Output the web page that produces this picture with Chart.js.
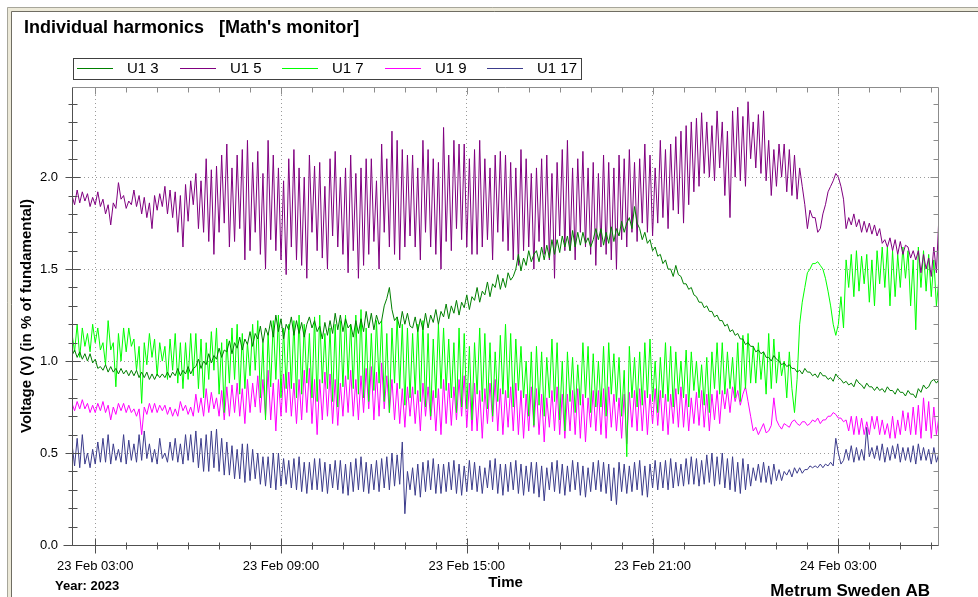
<!DOCTYPE html>
<html>
<head>
<meta charset="utf-8">
<script src="https://cdn.jsdelivr.net/npm/chart.js@4.4.1/dist/chart.umd.min.js"></script>
<style>
  html, body { margin: 0; padding: 0; background: #fff; }
  canvas { display: block; }
</style>
</head>
<body>
<canvas id="harmonics" width="978" height="597"></canvas>
<script>
// Time axis: hours counted from 23 Feb 00:00, one sample every 5 minutes
const START_HOUR = 2.25;
const STEP_HOURS = 1 / 12;

const seriesNames = ['U1 3', 'U1 5', 'U1 7', 'U1 9', 'U1 17'];
const seriesColors = ['#008000', '#800080', '#00ff00', '#ff00ff', '#3c3c8c'];

// Voltage harmonics in % of fundamental (one row = one hour)
const u1h3 = [
  1.03, 1.06, 1.02, 1.05, 1.01, 1.04, 1.00, 1.04, 0.99, 1.01, 0.96, 0.97,
  0.95, 0.98, 0.94, 0.97, 0.94, 0.96, 0.93, 0.96, 0.93, 0.95, 0.92, 0.95,
  0.92, 0.95, 0.91, 0.94, 0.91, 0.94, 0.90, 0.93, 0.90, 0.93, 0.91, 0.93,
  0.91, 0.94, 0.91, 0.94, 0.92, 0.96, 0.92, 0.95, 0.93, 0.97, 0.93, 0.96,
  0.97, 1.01, 0.96, 1.00, 0.98, 1.04, 0.99, 1.03, 1.01, 1.07, 1.02, 1.06,
  1.05, 1.11, 1.04, 1.10, 1.07, 1.13, 1.06, 1.12, 1.09, 1.16, 1.08, 1.15,
  1.12, 1.19, 1.10, 1.18, 1.14, 1.22, 1.13, 1.25, 1.16, 1.23, 1.12, 1.20,
  1.17, 1.24, 1.14, 1.22, 1.15, 1.21, 1.13, 1.20, 1.24, 1.18, 1.22, 1.16,
  1.19, 1.12, 1.21, 1.14, 1.22, 1.15, 1.26, 1.17, 1.25, 1.16, 1.23, 1.18,
  1.20, 1.13, 1.22, 1.15, 1.23, 1.16, 1.27, 1.18, 1.26, 1.17, 1.25, 1.20,
  1.22, 1.30, 1.34, 1.40, 1.28, 1.22, 1.24, 1.18, 1.27, 1.20, 1.26, 1.19,
  1.18, 1.24, 1.16, 1.23, 1.17, 1.26, 1.18, 1.25, 1.21, 1.28, 1.20, 1.27,
  1.24, 1.31, 1.23, 1.30, 1.26, 1.33, 1.25, 1.32, 1.29, 1.36, 1.28, 1.35,
  1.33, 1.40, 1.32, 1.38, 1.36, 1.43, 1.35, 1.42, 1.40, 1.47, 1.39, 1.45,
  1.40, 1.48, 1.44, 1.46, 1.50, 1.58, 1.49, 1.56, 1.52, 1.60, 1.54, 1.58,
  1.60, 1.54, 1.62, 1.55, 1.63, 1.56, 1.66, 1.58, 1.66, 1.59, 1.68, 1.62,
  1.68, 1.60, 1.71, 1.62, 1.70, 1.63, 1.70, 1.64, 1.67, 1.62, 1.66, 1.72,
  1.66, 1.72, 1.63, 1.70, 1.64, 1.73, 1.65, 1.72, 1.68, 1.76, 1.70, 1.75,
  1.78, 1.72, 1.84, 1.75, 1.72, 1.66, 1.70, 1.64, 1.66, 1.60, 1.62, 1.57,
  1.58, 1.53, 1.55, 1.50, 1.50, 1.46, 1.52, 1.47, 1.46, 1.42, 1.42, 1.39,
  1.40, 1.36, 1.35, 1.32, 1.32, 1.29, 1.30, 1.27, 1.27, 1.24, 1.25, 1.22,
  1.22, 1.19, 1.20, 1.16, 1.17, 1.14, 1.15, 1.12, 1.12, 1.09, 1.10, 1.08,
  1.08, 1.05, 1.06, 1.04, 1.05, 1.02, 1.02, 1.00, 1.03, 1.01, 1.00, 0.98,
  0.99, 0.97, 0.98, 0.96, 0.96, 0.94, 0.95, 0.93, 0.96, 0.94, 0.94, 0.92,
  0.93, 0.91, 0.94, 0.92, 0.92, 0.90, 0.91, 0.89, 0.93, 0.91, 0.90, 0.88,
  0.89, 0.87, 0.88, 0.86, 0.90, 0.88, 0.87, 0.85, 0.88, 0.86, 0.86, 0.84,
  0.86, 0.84, 0.85, 0.83, 0.86, 0.84, 0.84, 0.82, 0.85, 0.83, 0.83, 0.81,
  0.84, 0.82, 0.82, 0.80, 0.85, 0.83, 0.87, 0.85, 0.86, 0.89, 0.90, 0.88, 0.90
];
const u1h5 = [
  1.90, 1.85, 1.93, 1.86, 1.92, 1.87, 1.91, 1.84, 1.89, 1.85, 1.92, 1.84,
  1.88, 1.80, 1.85, 1.74, 1.86, 1.83, 1.97, 1.88, 1.90, 1.83, 1.87, 1.85,
  1.93, 1.84, 1.90, 1.80, 1.89, 1.78, 1.86, 1.72, 1.90, 1.82, 1.91, 1.84,
  1.95, 1.80, 1.93, 1.78, 1.92, 1.70, 1.90, 1.62, 1.96, 1.76, 1.98, 1.85,
  2.02, 1.72, 1.98, 1.70, 2.10, 1.65, 2.04, 1.58, 2.06, 1.70, 2.12, 1.75,
  2.18, 1.62, 2.05, 1.65, 2.12, 1.72, 2.15, 1.55, 2.20, 1.60, 2.08, 1.70,
  2.14, 1.58, 2.02, 1.50, 2.20, 1.66, 2.12, 1.60, 2.05, 1.55, 1.98, 1.47,
  2.10, 1.62, 2.15, 1.55, 2.05, 1.52, 2.00, 1.45, 2.12, 1.70, 2.06, 1.60,
  2.08, 1.56, 1.95, 1.50, 2.10, 1.68, 2.14, 1.62, 2.00, 1.58, 2.05, 1.48,
  2.12, 1.60, 2.02, 1.45, 2.05, 1.52, 2.10, 1.58, 2.10, 1.65, 1.98, 1.50,
  2.18, 1.70, 2.10, 1.62, 2.25, 1.58, 2.20, 1.55, 2.15, 1.62, 2.12, 1.68,
  2.12, 1.62, 2.05, 1.55, 2.20, 1.70, 2.15, 1.62, 2.10, 1.58, 2.08, 1.50,
  2.27, 1.65, 2.12, 1.60, 2.20, 1.72, 2.18, 1.66, 2.18, 1.62, 2.10, 1.58,
  2.15, 1.58, 2.20, 1.62, 2.10, 1.66, 2.05, 1.55, 2.12, 1.70, 2.14, 1.65,
  2.12, 1.60, 2.08, 1.55, 2.05, 1.52, 2.15, 1.60, 2.10, 1.62, 2.02, 1.50,
  2.05, 1.65, 2.10, 1.58, 2.12, 1.55, 2.02, 1.45, 2.08, 1.68, 2.15, 1.60,
  2.20, 1.60, 2.05, 1.55, 2.10, 1.70, 2.14, 1.62, 2.05, 1.58, 2.08, 1.52,
  2.02, 1.62, 2.12, 1.58, 2.08, 1.55, 2.05, 1.50, 2.12, 1.66, 2.10, 1.62,
  2.15, 1.70, 2.08, 1.65, 2.10, 1.75, 2.18, 1.70, 2.12, 1.68, 2.05, 1.75,
  2.20, 1.78, 2.15, 1.72, 2.18, 1.82, 2.22, 1.80, 2.25, 1.75, 2.28, 1.85,
  2.30, 1.92, 2.32, 1.95, 2.35, 2.02, 2.30, 2.00, 2.28, 1.98, 2.36, 2.05,
  2.30, 1.90, 2.25, 1.78, 2.36, 2.00, 2.38, 1.98, 2.33, 1.95, 2.41, 2.10,
  2.30, 2.05, 2.34, 2.02, 2.36, 1.98, 2.20, 1.90, 2.15, 1.95, 2.18, 2.00,
  2.18, 1.92, 2.15, 1.90, 2.12, 1.88, 2.05, 1.95, 1.85, 1.72, 1.82, 1.78,
  1.78, 1.70, 1.72, 1.80, 1.85, 1.92, 1.95, 1.98, 2.02, 2.00, 1.95, 1.88,
  1.72, 1.78, 1.74, 1.80, 1.73, 1.77, 1.70, 1.76, 1.70, 1.75, 1.69, 1.74,
  1.68, 1.72, 1.64, 1.66, 1.62, 1.67, 1.60, 1.66, 1.58, 1.65, 1.58, 1.63,
  1.62, 1.56, 1.60, 1.55, 1.60, 1.48, 1.58, 1.50, 1.56, 1.46, 1.62, 1.48, 1.80
];
const u1h7 = [
  1.15, 1.05, 1.20, 1.02, 1.18, 1.08, 1.15, 1.05, 1.20, 1.10, 1.18, 1.06,
  1.10, 0.98, 1.22, 1.06, 1.10, 0.86, 1.15, 1.00, 1.18, 1.05, 1.18, 1.08,
  1.12, 0.95, 1.08, 0.77, 1.10, 0.98, 1.15, 1.02, 1.12, 0.92, 1.10, 1.00,
  1.08, 0.90, 1.12, 0.95, 1.15, 0.88, 1.10, 0.85, 1.10, 0.90, 1.15, 0.92,
  1.15, 0.85, 1.12, 0.80, 1.10, 0.90, 1.16, 0.95, 1.18, 0.82, 1.10, 0.72,
  1.12, 0.88, 1.18, 0.90, 1.20, 0.82, 1.15, 0.85, 1.10, 0.92, 1.20, 0.95,
  1.22, 0.80, 1.10, 0.68, 1.15, 0.86, 1.22, 0.90, 1.25, 0.80, 1.18, 0.85,
  1.20, 0.85, 1.22, 0.80, 1.25, 0.82, 1.20, 0.88, 1.15, 0.80, 1.24, 0.78,
  1.25, 0.88, 1.15, 0.85, 1.18, 0.78, 1.20, 0.75, 1.22, 0.86, 1.25, 0.90,
  1.20, 0.85, 1.25, 0.82, 1.28, 0.80, 1.18, 0.78, 1.15, 0.84, 1.22, 0.88,
  1.22, 0.78, 1.15, 0.72, 1.18, 0.88, 1.24, 0.85, 1.20, 0.76, 1.18, 0.80,
  1.15, 0.82, 1.20, 0.78, 1.22, 0.75, 1.15, 0.70, 1.12, 0.80, 1.20, 0.85,
  1.18, 0.84, 1.12, 0.80, 1.10, 0.72, 1.18, 0.75, 1.15, 0.74, 1.08, 0.68,
  1.10, 0.82, 1.18, 0.78, 1.15, 0.74, 1.10, 0.70, 1.05, 0.78, 1.14, 0.82,
  1.20, 0.80, 1.15, 0.75, 1.12, 0.84, 1.08, 0.80, 1.00, 0.70, 1.05, 0.65,
  1.08, 0.76, 1.05, 0.70, 1.02, 0.80, 1.12, 0.78, 1.10, 0.68, 1.00, 0.62,
  1.05, 0.78, 1.02, 0.72, 0.98, 0.76, 1.10, 0.80, 1.08, 0.72, 1.04, 0.75,
  1.00, 0.75, 1.08, 0.70, 1.10, 0.82, 1.04, 0.78, 1.02, 0.70, 0.95, 0.48,
  1.08, 0.80, 1.02, 0.75, 1.05, 0.76, 1.10, 0.80, 1.12, 0.78, 1.00, 0.72,
  1.02, 0.80, 1.10, 0.78, 1.08, 0.75, 1.05, 0.82, 1.00, 0.80, 1.06, 0.75,
  1.05, 0.84, 1.00, 0.80, 0.98, 0.76, 1.02, 0.72, 1.05, 0.85, 1.10, 0.82,
  1.10, 0.82, 1.05, 0.85, 1.02, 0.80, 1.10, 0.78, 1.14, 0.85, 1.15, 0.88,
  1.08, 0.88, 1.10, 0.90, 1.05, 0.82, 1.15, 0.85, 1.12, 0.88, 1.05, 0.92,
  1.00, 0.80, 1.05, 0.85, 0.72, 0.90, 1.20, 1.32, 1.40, 1.48, 1.50, 1.53,
  1.53, 1.54, 1.52, 1.50, 1.45, 1.38, 1.30, 1.20, 1.14, 1.20, 1.35, 1.18,
  1.55, 1.40, 1.58, 1.35, 1.60, 1.38, 1.57, 1.42, 1.58, 1.32, 1.55, 1.30,
  1.60, 1.42, 1.62, 1.40, 1.62, 1.30, 1.60, 1.35, 1.58, 1.40, 1.62, 1.45,
  1.60, 1.30, 1.55, 1.17, 1.62, 1.40, 1.60, 1.38, 1.58, 1.35, 1.55, 1.30, 1.45
];
const u1h9 = [
  0.77, 0.73, 0.78, 0.74, 0.79, 0.74, 0.77, 0.72, 0.76, 0.72, 0.77, 0.73,
  0.78, 0.72, 0.76, 0.68, 0.75, 0.71, 0.77, 0.73, 0.77, 0.72, 0.76, 0.72,
  0.74, 0.70, 0.74, 0.60, 0.75, 0.71, 0.77, 0.72, 0.77, 0.72, 0.76, 0.73,
  0.76, 0.71, 0.75, 0.70, 0.74, 0.70, 0.78, 0.73, 0.76, 0.71, 0.75, 0.70,
  0.82, 0.72, 0.80, 0.70, 0.85, 0.72, 0.83, 0.74, 0.80, 0.70, 0.84, 0.68,
  0.86, 0.70, 0.87, 0.72, 0.88, 0.70, 0.85, 0.66, 0.90, 0.72, 0.88, 0.75,
  0.92, 0.72, 0.90, 0.70, 0.95, 0.68, 0.88, 0.62, 0.90, 0.70, 0.93, 0.72,
  0.94, 0.70, 0.88, 0.66, 0.90, 0.68, 0.95, 0.72, 0.96, 0.66, 0.90, 0.60,
  0.90, 0.68, 0.94, 0.70, 0.93, 0.66, 0.90, 0.65, 0.88, 0.70, 0.92, 0.72,
  0.95, 0.70, 0.90, 0.68, 0.92, 0.72, 0.96, 0.74, 0.97, 0.68, 0.94, 0.70,
  0.99, 0.74, 0.92, 0.72, 0.90, 0.68, 0.88, 0.66, 0.85, 0.64, 0.86, 0.70,
  0.86, 0.66, 0.84, 0.62, 0.88, 0.70, 0.86, 0.68, 0.84, 0.62, 0.85, 0.60,
  0.90, 0.66, 0.88, 0.65, 0.86, 0.68, 0.90, 0.70, 0.92, 0.64, 0.88, 0.62,
  0.88, 0.62, 0.84, 0.58, 0.85, 0.66, 0.88, 0.67, 0.90, 0.62, 0.85, 0.60,
  0.84, 0.64, 0.86, 0.62, 0.88, 0.60, 0.84, 0.58, 0.82, 0.62, 0.86, 0.64,
  0.85, 0.60, 0.82, 0.56, 0.80, 0.64, 0.84, 0.62, 0.86, 0.60, 0.82, 0.58,
  0.82, 0.62, 0.84, 0.60, 0.85, 0.58, 0.82, 0.56, 0.80, 0.64, 0.84, 0.62,
  0.84, 0.60, 0.85, 0.58, 0.86, 0.64, 0.82, 0.62, 0.80, 0.58, 0.82, 0.55,
  0.83, 0.64, 0.84, 0.62, 0.85, 0.62, 0.84, 0.60, 0.82, 0.66, 0.85, 0.65,
  0.84, 0.62, 0.82, 0.60, 0.82, 0.66, 0.85, 0.64, 0.86, 0.64, 0.82, 0.62,
  0.80, 0.66, 0.83, 0.65, 0.84, 0.64, 0.82, 0.62, 0.82, 0.68, 0.84, 0.66,
  0.84, 0.74, 0.85, 0.72, 0.86, 0.78, 0.84, 0.76, 0.82, 0.86, 0.78, 0.70,
  0.62, 0.64, 0.60, 0.63, 0.66, 0.61, 0.62, 0.65, 0.80, 0.68, 0.65, 0.63,
  0.66, 0.65, 0.64, 0.67, 0.68, 0.66, 0.65, 0.67, 0.67, 0.65, 0.66, 0.68,
  0.67, 0.69, 0.66, 0.68, 0.68, 0.70, 0.70, 0.72, 0.71, 0.69, 0.69, 0.67,
  0.68, 0.62, 0.70, 0.60, 0.70, 0.60, 0.69, 0.60, 0.67, 0.60, 0.70, 0.63,
  0.70, 0.60, 0.68, 0.60, 0.66, 0.58, 0.70, 0.58, 0.68, 0.60, 0.73, 0.62,
  0.72, 0.60, 0.75, 0.60, 0.76, 0.58, 0.80, 0.62, 0.78, 0.58, 0.75, 0.60, 0.70
];
const u1h17 = [
  0.55, 0.43, 0.58, 0.42, 0.60, 0.44, 0.50, 0.42, 0.52, 0.44, 0.56, 0.45,
  0.58, 0.45, 0.60, 0.44, 0.55, 0.46, 0.52, 0.45, 0.60, 0.44, 0.57, 0.46,
  0.55, 0.45, 0.60, 0.46, 0.62, 0.47, 0.55, 0.45, 0.52, 0.44, 0.58, 0.47,
  0.50, 0.45, 0.56, 0.46, 0.58, 0.45, 0.55, 0.44, 0.60, 0.46, 0.60, 0.45,
  0.62, 0.42, 0.58, 0.40, 0.60, 0.40, 0.62, 0.42, 0.63, 0.40, 0.58, 0.38,
  0.56, 0.38, 0.54, 0.36, 0.52, 0.36, 0.55, 0.34, 0.55, 0.35, 0.52, 0.36,
  0.50, 0.33, 0.48, 0.32, 0.48, 0.31, 0.50, 0.30, 0.50, 0.32, 0.47, 0.33,
  0.46, 0.31, 0.47, 0.30, 0.48, 0.29, 0.45, 0.28, 0.45, 0.30, 0.47, 0.30,
  0.47, 0.29, 0.45, 0.28, 0.44, 0.31, 0.46, 0.30, 0.46, 0.28, 0.44, 0.27,
  0.45, 0.29, 0.47, 0.30, 0.48, 0.29, 0.45, 0.28, 0.44, 0.30, 0.46, 0.29,
  0.47, 0.31, 0.48, 0.30, 0.50, 0.32, 0.49, 0.33, 0.56, 0.17, 0.40, 0.30,
  0.42, 0.27, 0.44, 0.26, 0.45, 0.29, 0.46, 0.30, 0.47, 0.28, 0.44, 0.28,
  0.44, 0.29, 0.45, 0.30, 0.46, 0.28, 0.44, 0.27, 0.43, 0.29, 0.46, 0.30,
  0.45, 0.29, 0.43, 0.28, 0.42, 0.31, 0.46, 0.30, 0.47, 0.28, 0.44, 0.27,
  0.44, 0.29, 0.45, 0.30, 0.46, 0.28, 0.44, 0.27, 0.43, 0.29, 0.45, 0.28,
  0.45, 0.26, 0.43, 0.24, 0.42, 0.30, 0.45, 0.29, 0.46, 0.28, 0.44, 0.27,
  0.43, 0.29, 0.46, 0.30, 0.45, 0.27, 0.43, 0.26, 0.42, 0.29, 0.45, 0.30,
  0.46, 0.29, 0.45, 0.28, 0.44, 0.24, 0.42, 0.22, 0.45, 0.29, 0.44, 0.28,
  0.43, 0.29, 0.45, 0.30, 0.46, 0.27, 0.43, 0.26, 0.44, 0.31, 0.46, 0.30,
  0.45, 0.31, 0.46, 0.30, 0.47, 0.31, 0.45, 0.32, 0.44, 0.32, 0.47, 0.33,
  0.48, 0.33, 0.47, 0.32, 0.46, 0.33, 0.49, 0.34, 0.50, 0.32, 0.48, 0.33,
  0.50, 0.31, 0.47, 0.30, 0.48, 0.29, 0.45, 0.28, 0.47, 0.30, 0.44, 0.32,
  0.42, 0.35, 0.44, 0.34, 0.45, 0.34, 0.43, 0.33, 0.44, 0.35, 0.41, 0.35,
  0.40, 0.38, 0.41, 0.37, 0.42, 0.39, 0.42, 0.39, 0.41, 0.41, 0.43, 0.42,
  0.43, 0.42, 0.44, 0.42, 0.44, 0.43, 0.45, 0.43, 0.58, 0.50, 0.44, 0.46,
  0.52, 0.46, 0.54, 0.45, 0.53, 0.46, 0.52, 0.46, 0.64, 0.48, 0.53, 0.47,
  0.54, 0.46, 0.55, 0.45, 0.53, 0.46, 0.54, 0.47, 0.55, 0.45, 0.53, 0.46,
  0.53, 0.45, 0.54, 0.44, 0.55, 0.46, 0.53, 0.46, 0.52, 0.44, 0.53, 0.45, 0.50
];

// Axis ticks
const xMinorHours = [3, 4, 5, 6, 7, 8, 9, 10, 11, 12, 13, 14, 15, 16, 17, 18, 19, 20,
                     21, 22, 23, 24, 25, 26, 27, 28, 29, 30];
const xMajorHours = [3, 9, 15, 21, 27];
const xMajorLabels = ['23 Feb 03:00', '23 Feb 09:00', '23 Feb 15:00', '23 Feb 21:00', '24 Feb 03:00'];
const yMinorTicks = [0, 0.1, 0.2, 0.3, 0.4, 0.5, 0.6, 0.7, 0.8, 0.9, 1.0, 1.1, 1.2,
                     1.3, 1.4, 1.5, 1.6, 1.7, 1.8, 1.9, 2.0, 2.1, 2.2, 2.3, 2.4];
const yMajorTicks = [0, 0.5, 1.0, 1.5, 2.0];

const FONT = '"Liberation Sans", Arial, sans-serif';
const allSeries = [u1h3, u1h5, u1h7, u1h9, u1h17];

const isYMajor = v => yMajorTicks.some(m => Math.abs(m - v) < 1e-6);
const isXMajor = v => xMajorHours.includes(v);

function toPoints(values) {
  return values.map((v, i) => ({ x: START_HOUR + i * STEP_HOURS, y: v }));
}

function strokeLine(ctx, x1, y1, x2, y2) {
  ctx.beginPath();
  ctx.moveTo(x1, y1);
  ctx.lineTo(x2, y2);
  ctx.stroke();
}

// frame, title, legend box and footer texts
const decorPlugin = {
  id: 'decor',
  beforeDraw(chart) {
    const ctx = chart.ctx;
    ctx.save();
    // window frame (left/top only, runs off the picture)
    ctx.fillStyle = '#ece9d8';
    ctx.fillRect(7, 7, 978, 5);
    ctx.fillRect(7, 7, 5, 597);
    ctx.fillStyle = '#fff';
    ctx.fillRect(12, 12, 978, 597);
    ctx.strokeStyle = '#a7a69a';
    ctx.lineWidth = 1;
    strokeLine(ctx, 7.5, 7.5, 978, 7.5);
    strokeLine(ctx, 7.5, 7.5, 7.5, 597);
    ctx.strokeStyle = '#6f6d62';
    strokeLine(ctx, 11.5, 11.5, 978, 11.5);
    strokeLine(ctx, 11.5, 11.5, 11.5, 597);

    ctx.fillStyle = '#000';
    ctx.textBaseline = 'alphabetic';
    ctx.font = 'bold 18px ' + FONT;
    ctx.fillText('Individual harmonics   [Math\'s monitor]', 24, 33);

    // legend
    ctx.strokeStyle = '#404040';
    ctx.strokeRect(73.5, 58.5, 508, 21);
    ctx.font = '15px ' + FONT;
    ctx.textBaseline = 'middle';
    chart.data.datasets.forEach((ds, i) => {
      const x0 = Math.round(77 + i * 102.5);
      ctx.strokeStyle = ds.borderColor;
      strokeLine(ctx, x0, 68.5, x0 + 36, 68.5);
      ctx.fillStyle = '#000';
      ctx.fillText(ds.label, x0 + 50, 69);
    });
    ctx.restore();
  },
  afterDraw(chart) {
    const { ctx, chartArea: a, scales: { x, y } } = chart;
    const L = Math.round(a.left) + 0.5;
    const R = Math.round(a.right) - 0.5;
    const T = Math.round(a.top) + 0.5;
    const B = Math.round(a.bottom) + 0.5;
    ctx.save();
    ctx.lineWidth = 1;
    // top and right frame of the plot
    ctx.strokeStyle = '#8c8c8c';
    strokeLine(ctx, L, T, R, T);
    strokeLine(ctx, R, T, R, B);
    yMinorTicks.forEach(v => {
      const py = Math.round(y.getPixelForValue(v)) + 0.5;
      strokeLine(ctx, R - (isYMajor(v) ? 8 : 5), py, R, py);
    });
    xMinorHours.forEach(h => {
      const px = Math.round(x.getPixelForValue(h)) + 0.5;
      strokeLine(ctx, px, T, px, T + (isXMajor(h) ? 7 : 5));
    });
    // left and bottom axes
    ctx.strokeStyle = '#505050';
    strokeLine(ctx, L, T, L, B);
    strokeLine(ctx, L - 9, B, R, B);
    yMinorTicks.forEach(v => {
      const py = Math.round(y.getPixelForValue(v)) + 0.5;
      if (isYMajor(v)) strokeLine(ctx, L - 7, py, L + 8, py);
      else strokeLine(ctx, L - 4, py, L + 5, py);
    });
    xMinorHours.forEach(h => {
      const px = Math.round(x.getPixelForValue(h)) + 0.5;
      if (isXMajor(h)) strokeLine(ctx, px, B - 7, px, B + 8);
      else strokeLine(ctx, px, B - 3, px, B + 4);
    });

    ctx.fillStyle = '#000';
    ctx.textBaseline = 'alphabetic';
    ctx.font = 'bold 13px ' + FONT;
    ctx.fillText('Year: 2023', 55, 590);
    ctx.font = 'bold 17px ' + FONT;
    ctx.textAlign = 'right';
    ctx.fillText('Metrum Sweden AB', 930, 596);
    ctx.restore();
  }
};

new Chart(document.getElementById('harmonics'), {
  type: 'line',
  data: {
    datasets: seriesNames.map((name, i) => ({
      label: name,
      data: toPoints(allSeries[i]),
      borderColor: seriesColors[i],
      borderWidth: 1,
      pointRadius: 0,
      tension: 0,
      fill: false,
      order: i + 1
    }))
  },
  options: {
    responsive: false,
    animation: false,
    devicePixelRatio: 1,
    layout: { padding: { left: 0, top: 87, right: 39, bottom: 0 } },
    plugins: {
      legend: { display: false },
      tooltip: { enabled: false }
    },
    scales: {
      x: {
        type: 'linear',
        min: START_HOUR,
        max: 30.25,
        afterFit: s => { s.height = 52; },
        afterBuildTicks: s => { s.ticks = xMinorHours.map(v => ({ value: v })); },
        grid: {
          drawTicks: false,
          color: c => (c.tick && isXMajor(c.tick.value) ? '#9a9a9a' : 'transparent')
        },
        border: { display: false, dash: [1, 3] },
        ticks: {
          autoSkip: false,
          maxRotation: 0,
          padding: 14,
          color: '#000',
          font: { family: FONT, size: 13 },
          callback: v => {
            const k = xMajorHours.indexOf(v);
            return k >= 0 ? xMajorLabels[k] : '';
          }
        },
        title: {
          display: true,
          text: 'Time',
          color: '#000',
          font: { family: FONT, size: 15, weight: 'bold' },
          padding: { top: 0, bottom: 5 }
        }
      },
      y: {
        min: 0,
        max: 2.49,
        afterFit: s => { s.width = 72; },
        afterBuildTicks: s => { s.ticks = yMinorTicks.map(v => ({ value: v })); },
        grid: {
          drawTicks: false,
          color: c => (c.tick && c.tick.value > 0 && isYMajor(c.tick.value) ? '#9a9a9a' : 'transparent')
        },
        border: { display: false, dash: [1, 3] },
        ticks: {
          autoSkip: false,
          padding: 14,
          color: '#000',
          font: { family: FONT, size: 13 },
          callback: v => (isYMajor(v) ? v.toFixed(1) : '')
        },
        title: {
          display: true,
          text: 'Voltage (V) (in % of fundamental)',
          color: '#000',
          font: { family: FONT, size: 15, weight: 'bold' },
          padding: { top: 18, bottom: 0 }
        }
      }
    }
  },
  plugins: [decorPlugin]
});
</script>
</body>
</html>
